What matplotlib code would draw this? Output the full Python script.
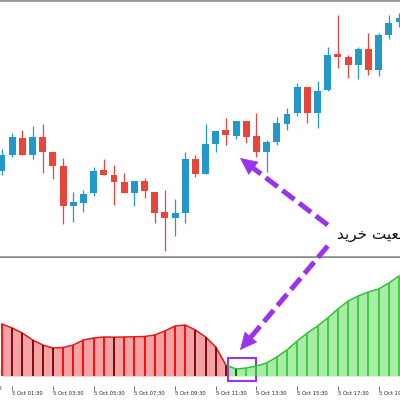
import numpy as np
import matplotlib
matplotlib.use('Agg')
import matplotlib.pyplot as plt
from matplotlib.patches import Rectangle
from matplotlib.lines import Line2D
from matplotlib.transforms import IdentityTransform

# 30 min candles, 5 Oct 01:00 ...
opens  = [1.1786, 1.1802, 1.1819, 1.1802, 1.1820, 1.1805, 1.1791, 1.1751, 1.1754, 1.1764,
          1.1787, 1.1782, 1.1775, 1.1764, 1.1776, 1.1765, 1.1745, 1.1739, 1.1744, 1.1798,
          1.1783, 1.1813, 1.1827, 1.1821, 1.1836, 1.1821, 1.1805, 1.1815, 1.1833, 1.1844,
          1.1870, 1.1844, 1.1867, 1.1903, 1.1900, 1.1892, 1.1908, 1.1887, 1.1922, 1.1935]
highs  = [1.1808, 1.1824, 1.1827, 1.1831, 1.1833, 1.1805, 1.1799, 1.1765, 1.1767, 1.1790,
          1.1798, 1.1792, 1.1784, 1.1776, 1.1779, 1.1765, 1.1767, 1.1758, 1.1805, 1.1802,
          1.1833, 1.1826, 1.1839, 1.1836, 1.1836, 1.1844, 1.1817, 1.1840, 1.1849, 1.1874,
          1.1870, 1.1876, 1.1910, 1.1942, 1.1902, 1.1910, 1.1924, 1.1924, 1.1942, 1.1944]
lows   = [1.1782, 1.1800, 1.1802, 1.1798, 1.1784, 1.1778, 1.1733, 1.1735, 1.1745, 1.1761,
          1.1782, 1.1752, 1.1764, 1.1751, 1.1759, 1.1734, 1.1706, 1.1721, 1.1734, 1.1780,
          1.1783, 1.1805, 1.1812, 1.1818, 1.1814, 1.1800, 1.1785, 1.1812, 1.1827, 1.1841,
          1.1834, 1.1829, 1.1866, 1.1889, 1.1879, 1.1878, 1.1882, 1.1881, 1.1918, 1.1930]
closes = [1.1802, 1.1820, 1.1802, 1.1820, 1.1805, 1.1791, 1.1751, 1.1755, 1.1763, 1.1786,
          1.1782, 1.1775, 1.1764, 1.1776, 1.1766, 1.1744, 1.1739, 1.1744, 1.1798, 1.1783,
          1.1813, 1.1826, 1.1822, 1.1836, 1.1820, 1.1805, 1.1815, 1.1834, 1.1843, 1.1870,
          1.1844, 1.1866, 1.1902, 1.1900, 1.1892, 1.1908, 1.1887, 1.1922, 1.1934, 1.1939]

# indicator histogram (sub window)
osc = [52, 48, 43, 36, 31, 28, 28.5, 31, 36, 38, 39, 38.8, 39, 39.2, 39.5, 41, 45, 50, 51, 46,
       39, 29, 11, 7, 8, 10, 13, 19, 26, 35, 43, 50, 58, 67, 75, 80, 84, 87, 93, 100]
turn = 22          # last bar of the red (down) phase

tick_pos = [-3, 1, 5, 9, 13, 17, 21, 25, 29, 33, 37]
tick_lbl = ['4 Oct 23:30', '5 Oct 01:30', '5 Oct 03:30', '5 Oct 05:30', '5 Oct 07:30',
            '5 Oct 09:30', '5 Oct 11:30', '5 Oct 13:30', '5 Oct 15:30', '5 Oct 17:30',
            '5 Oct 19:30']

# "موقعیت خرید" in presentation forms, visual order
note = '\uFEAA\uFEF3\uFEAE\uFEA7 \uFE96\uFEF4\uFECC\uFED7\uFEEE\uFEE3'

up_c, dn_c = '#2299c8', '#e8463d'
purple = '#9933ee'

fig = plt.figure(figsize=(4, 4), dpi=100)
ax = fig.add_axes([0, 0.3575, 1, 0.64])
ax2 = fig.add_axes([0, 0.035, 1, 0.32])

x = np.arange(len(opens))
o, h, l, c = map(np.array, (opens, highs, lows, closes))
col = np.where(c >= o, up_c, dn_c)

ax.vlines(x, l, h, colors=col, lw=0.9)
ax.bar(x, np.abs(c - o), bottom=np.minimum(o, c), width=0.68, color=col)

ax.set_xlim(-0.196, 39.1)
ax.set_ylim(1.1700, 1.1956)
ax.set_xticks([])
ax.set_yticks([])
for s in ['left', 'right']:
    ax.spines[s].set_visible(False)
ax.spines['top'].set_color('#888888')
ax.spines['top'].set_linewidth(1.2)
ax.spines['bottom'].set_color('#888888')
ax.spines['bottom'].set_linewidth(1.8)

ax.text(32.9, 1.1723, note, ha='left', va='center', fontsize=11,
        family=['DejaVu Sans'], color='#111111')

# sub window
v = np.array(osc, dtype=float)
xr, vr = x[:turn + 1], v[:turn + 1]
xg, vg = x[turn:], v[turn:]
ax2.fill_between(xr, 0, vr, color='#f2a4a4', lw=0)
ax2.fill_between(xg, 0, vg, color='#a8eca8', lw=0)
ax2.plot(xr, vr, color='#dd1a1a', lw=1.1)
ax2.plot(xg, vg, color='#33bb33', lw=1.1)
falling = np.r_[False, v[1:] < v[:-1]]
bar_c = []
for i in range(len(v)):
    if i <= turn:
        bar_c.append('#7a0000' if falling[i] else '#ff0000')
    else:
        bar_c.append('#006600' if falling[i] else '#33cc33')
ax2.vlines(x, 0, v, colors=bar_c, lw=1.3)

ax2.set_xlim(-0.196, 39.1)
ax2.set_ylim(-10, 118)
ax2.set_yticks([])
for s in ['left', 'right', 'top', 'bottom']:
    ax2.spines[s].set_visible(False)
ax2.set_xticks(tick_pos[1:])
ax2.set_xticklabels(tick_lbl[1:], ha='left', fontsize=3.8, color='#222222')
ax2.tick_params(axis='x', length=3, width=0.6, color='#555555', pad=0.5)
ax2.text(tick_pos[0], -10, tick_lbl[0], fontsize=3.8, color='#222222',
         ha='left', va='top', transform=ax2.transData)

ax2.add_patch(Rectangle((22.2, -5), 2.75, 23, fill=False, ec=purple, lw=1.5, clip_on=False))


def dashed_arrow(tail, tr_tail, tip, tr_tip):
    p0 = np.array(tr_tail.transform(tail))
    p1 = np.array(tr_tip.transform(tip))
    d = (p1 - p0) / np.hypot(*(p1 - p0))
    base = p1 - d * 15
    fig.add_artist(Line2D([p0[0], base[0]], [p0[1], base[1]], transform=IdentityTransform(),
                          color=purple, lw=3.6, linestyle=(0, (3, 1.2)),
                          solid_capstyle='butt', dash_capstyle='butt'))
    fig.add_artist(matplotlib.patches.FancyArrowPatch(
        base - d * 1, p1, transform=IdentityTransform(),
        arrowstyle='-|>,head_length=1.15,head_width=0.55', mutation_scale=10,
        color=purple, lw=0.5, shrinkA=0, shrinkB=0))


dashed_arrow((32.0, 1.1732), ax.transData, (23.38, 1.1799), ax.transData)
dashed_arrow((32.0, 1.1711), ax.transData, (23.38, 26), ax2.transData)

fig.savefig('out.png', dpi=100)
